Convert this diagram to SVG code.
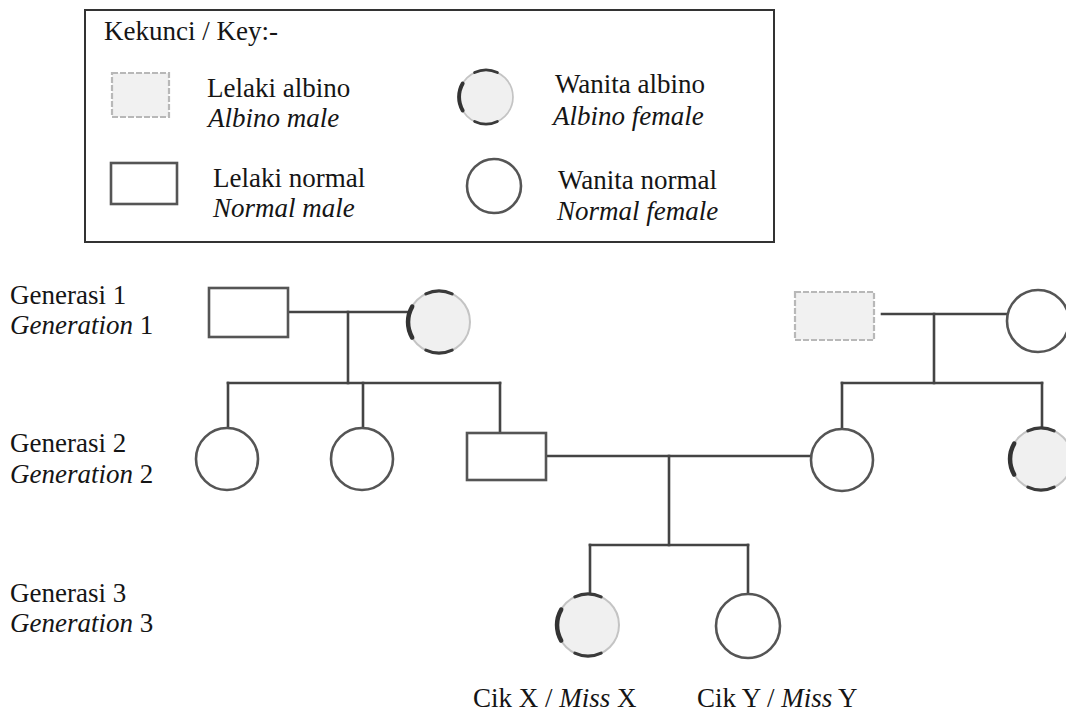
<svg xmlns="http://www.w3.org/2000/svg" xmlns:xlink="http://www.w3.org/1999/xlink" width="1066" height="720" viewBox="0 0 1066 720">
  <style>
    .txt { font-family: "Liberation Serif", "Times New Roman", serif; font-size: 27px; fill: #151515; }
    .it { font-style: italic; }
    .line { stroke: #444; stroke-width: 2.6; fill: none; stroke-linecap: square; }
    .normal { fill: #fff; stroke: #555; stroke-width: 2.6; }
    .albino-m { fill: #f1f1f1; stroke: #b8b8b8; stroke-width: 2.2; stroke-dasharray: 6 2; }
    .albino-f { fill: #f0f0f0; stroke: #c4c4c4; stroke-width: 2; }
    .edge { fill: none; stroke: #3a3a3a; stroke-width: 3.2; stroke-linecap: round; }
    .edge-l { fill: none; stroke: #333; stroke-width: 4.5; stroke-linecap: round; }
  </style>
  <defs>
    <!-- affected female: pale disc with darker rim fragments (unit radius 31) -->
    <g id="albinoFemale">
      <circle r="31" class="albino-f"/>
      <path class="edge" d="M-13.1,-28.1 A31,31 0 0 1 13.1,-28.1"/>
      <path class="edge-l" d="M-26.8,15.5 A31,31 0 0 1 -26.8,-15.5"/>
      <path class="edge" d="M13.1,28.1 A31,31 0 0 1 -13.1,28.1"/>
    </g>
  </defs>

  <rect width="1066" height="720" fill="#fff"/>

  <!-- Key -->
  <g id="key">
    <rect x="85" y="10" width="689" height="232" fill="none" stroke="#333" stroke-width="2"/>
    <text class="txt" x="104" y="40">Kekunci / Key:-</text>
    <rect class="albino-m" x="112" y="73" width="57" height="44"/>
    <text class="txt" x="207" y="97">Lelaki albino</text>
    <text class="txt it" x="208" y="127">Albino male</text>
    <rect class="normal" x="111" y="163" width="66" height="41"/>
    <text class="txt" x="213" y="187">Lelaki normal</text>
    <text class="txt it" x="213" y="217">Normal male</text>
    <use xlink:href="#albinoFemale" href="#albinoFemale" transform="translate(486,97) scale(0.87)"/>
    <text class="txt" x="555" y="93">Wanita albino</text>
    <text class="txt it" x="553" y="125">Albino female</text>
    <circle class="normal" cx="494" cy="186" r="27"/>
    <text class="txt" x="558" y="189">Wanita normal</text>
    <text class="txt it" x="557" y="220">Normal female</text>
  </g>

  <!-- Generation labels -->
  <g id="labels">
    <text class="txt" x="10" y="304">Generasi 1</text>
    <text class="txt" x="10" y="334"><tspan class="it">Generation</tspan> 1</text>
    <text class="txt" x="10" y="452">Generasi 2</text>
    <text class="txt" x="10" y="483"><tspan class="it">Generation</tspan> 2</text>
    <text class="txt" x="10" y="602">Generasi 3</text>
    <text class="txt" x="10" y="632"><tspan class="it">Generation</tspan> 3</text>
  </g>

  <!-- Connectors -->
  <g id="connectors">
    <!-- left G1 couple and sibship -->
    <path class="line" d="M288,312 H409"/>
    <path class="line" d="M348,312 V383"/>
    <path class="line" d="M228,383 H500"/>
    <path class="line" d="M228,383 V428"/>
    <path class="line" d="M363,383 V428"/>
    <path class="line" d="M500,383 V433"/>
    <!-- right G1 couple and sibship -->
    <path class="line" d="M882,314 H1008"/>
    <path class="line" d="M934,314 V383"/>
    <path class="line" d="M842,383 H1042"/>
    <path class="line" d="M842,383 V429"/>
    <path class="line" d="M1042,383 V428"/>
    <!-- G2 couple and sibship -->
    <path class="line" d="M546,456 H812"/>
    <path class="line" d="M669,456 V545"/>
    <path class="line" d="M590,545 H748"/>
    <path class="line" d="M590,545 V593"/>
    <path class="line" d="M748,545 V594"/>
  </g>

  <!-- Generation 1 -->
  <g id="g1-male-left"><rect class="normal" x="209" y="288" width="79" height="49"/></g>
  <g id="g1-female-left"><use xlink:href="#albinoFemale" href="#albinoFemale" transform="translate(439,322)"/></g>
  <g id="g1-male-right"><rect class="albino-m" x="795" y="292" width="79" height="48"/></g>
  <g id="g1-female-right"><circle class="normal" cx="1038" cy="321" r="31"/></g>

  <!-- Generation 2 -->
  <g id="g2-daughter-1"><circle class="normal" cx="227" cy="459" r="31"/></g>
  <g id="g2-daughter-2"><circle class="normal" cx="362" cy="459" r="31"/></g>
  <g id="g2-son"><rect class="normal" x="467" y="433" width="79" height="47"/></g>
  <g id="g2-wife"><circle class="normal" cx="842" cy="460" r="31"/></g>
  <g id="g2-wife-sister"><use xlink:href="#albinoFemale" href="#albinoFemale" transform="translate(1041,459)"/></g>

  <!-- Generation 3 -->
  <g id="g3-miss-x">
    <use xlink:href="#albinoFemale" href="#albinoFemale" transform="translate(588,625)"/>
    <text class="txt" x="473" y="707">Cik X / <tspan class="it">Miss</tspan> X</text>
  </g>
  <g id="g3-miss-y">
    <circle class="normal" cx="748" cy="626" r="32"/>
    <text class="txt" x="697" y="707">Cik Y / <tspan class="it">Miss</tspan> Y</text>
  </g>
</svg>
